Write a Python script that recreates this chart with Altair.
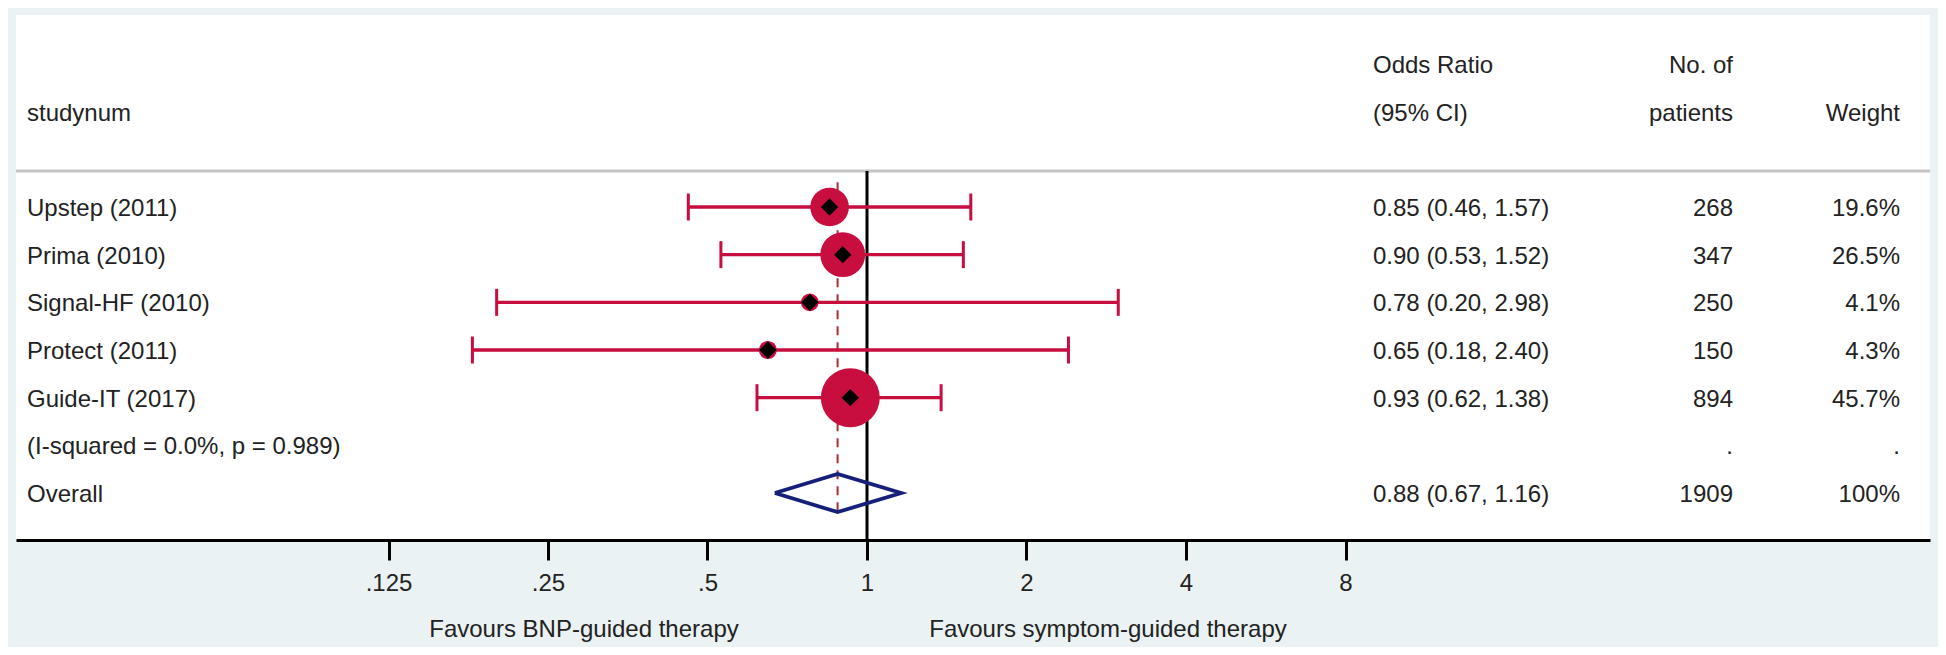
import altair as alt
import pandas as pd

# ---------------- data ----------------
studies = ["Upstep (2011)", "Prima (2010)", "Signal-HF (2010)", "Protect (2011)", "Guide-IT (2017)"]
or_est = [0.85, 0.90, 0.78, 0.65, 0.93]
ci_low = [0.46, 0.53, 0.20, 0.18, 0.62]
ci_high = [1.57, 1.52, 2.98, 2.40, 1.38]
patients = [268, 347, 250, 150, 894]
weights = [19.6, 26.5, 4.1, 4.3, 45.7]

overall_label = "Overall"
overall_est = 0.88
overall_low = 0.67
overall_high = 1.16
overall_n = 1909
overall_weight = "100%"
het_label = "(I-squared = 0.0%, p = 0.989)"

tick_values = [0.125, 0.25, 0.5, 1, 2, 4, 8]
left_note = "Favours BNP-guided therapy"
right_note = "Favours symptom-guided therapy"

# ---------------- layout / style ----------------
W, H = 1914, 525
X_ONE = 851.0            # view px where OR = 1
PX_PER_DOUBLING = 159.5
ROW0_Y = 192.0
ROW_STEP = 47.67
SEP_ROW = (156 - ROW0_Y) / ROW_STEP
FONT = "Liberation Sans"
FS = 24
TXT = "#222222"
RED = "#C80D3F"
NAVY = "#16207A"
DASH = "#A03038"

x_lo = 2 ** (-X_ONE / PX_PER_DOUBLING)
x_hi = 2 ** ((W - X_ONE) / PX_PER_DOUBLING)
y_top = -ROW0_Y / ROW_STEP
y_bot = (H - ROW0_Y) / ROW_STEP

xscale = alt.Scale(type="log", base=2, domain=[x_lo, x_hi], nice=False, zero=False)
yscale = alt.Scale(domain=[y_top, y_bot], reverse=True, nice=False, zero=False)
xaxis = alt.Axis(
    values=tick_values,
    labelExpr="datum.value < 1 ? substring(toString(datum.value), 1) : toString(datum.value)",
    title=None, grid=False, domainColor="black", domainWidth=3,
    tickColor="black", tickWidth=3, tickSize=20, labelFontSize=FS, labelFont=FONT,
    labelColor=TXT, labelPadding=11, labelFlush=False, labelOverlap=False,
)


def X(f):
    return alt.X(f, type="quantitative", scale=xscale, axis=xaxis)


def Y(f):
    return alt.Y(f, type="quantitative", scale=yscale, axis=None)


n = len(studies)
rows = list(range(n))
cap = 0.283
sdf = pd.DataFrame({
    "row": rows, "est": or_est, "lo": ci_low, "hi": ci_high, "weight": weights,
    "c0": [r - cap for r in rows], "c1": [r + cap for r in rows],
})

het_row = n
ov_row = n + 1

label_df = pd.DataFrame({
    "row": rows + [het_row, ov_row],
    "label": studies + [het_label, overall_label],
})
or_df = pd.DataFrame({
    "row": rows + [ov_row],
    "txt": [f"{e:.2f} ({l:.2f}, {h:.2f})" for e, l, h in zip(or_est, ci_low, ci_high)]
    + [f"{overall_est:.2f} ({overall_low:.2f}, {overall_high:.2f})"],
})
n_df = pd.DataFrame({
    "row": rows + [het_row, ov_row],
    "txt": [str(p) for p in patients] + [".", str(overall_n)],
})
w_df = pd.DataFrame({
    "row": rows + [het_row, ov_row],
    "txt": [f"{w}%" for w in weights] + [".", overall_weight],
})
hdr_left = pd.DataFrame({"row": [-2], "txt": ["studynum"]})
hdr_or = pd.DataFrame({"row": [-3, -2], "txt": ["Odds Ratio", "(95% CI)"]})
hdr_n = pd.DataFrame({"row": [-3, -2], "txt": ["No. of", "patients"]})
hdr_w = pd.DataFrame({"row": [-2], "txt": ["Weight"]})

dh = 0.4
diamond_df = pd.DataFrame({
    "x": [overall_low, overall_est, overall_high, overall_est, overall_low],
    "y": [ov_row, ov_row - dh, ov_row, ov_row + dh, ov_row],
    "o": [0, 1, 2, 3, 4],
})

sep = alt.Chart(pd.DataFrame({"r": [SEP_ROW]})).mark_rule(
    color="#C4C4C4", strokeWidth=3
).encode(y=Y("r"), x=alt.value(0), x2=alt.value(W))

null_line = alt.Chart(pd.DataFrame({"v": [1], "r": [SEP_ROW]})).mark_rule(
    color="black", strokeWidth=3
).encode(x=X("v"), y=Y("r"), y2=alt.value(H))

dash_line = alt.Chart(pd.DataFrame({"v": [overall_est], "r0": [-0.52], "r1": [6.46]})).mark_rule(
    color=DASH, strokeWidth=2, strokeDash=[9, 7]
).encode(x=X("v"), y=Y("r0"), y2="r1")

ci = alt.Chart(sdf).mark_rule(color=RED, strokeWidth=3.3).encode(x=X("lo"), x2="hi", y=Y("row"))
cap_lo = alt.Chart(sdf).mark_rule(color=RED, strokeWidth=3).encode(x=X("lo"), y=Y("c0"), y2="c1")
cap_hi = alt.Chart(sdf).mark_rule(color=RED, strokeWidth=3).encode(x=X("hi"), y=Y("c0"), y2="c1")

circles = alt.Chart(sdf).mark_point(
    shape="circle", filled=True, color=RED, opacity=1, strokeWidth=0
).encode(
    x=X("est"), y=Y("row"),
    size=alt.Size("weight:Q", scale=alt.Scale(domain=[0, 100], range=[0, 7600]), legend=None),
)
dmarks = alt.Chart(sdf).mark_point(
    shape="diamond", filled=True, color="black", opacity=1, size=300, strokeWidth=0
).encode(x=X("est"), y=Y("row"))

ov_diamond = alt.Chart(diamond_df).mark_line(
    color=NAVY, strokeWidth=3.8, strokeJoin="miter"
).encode(x=X("x"), y=Y("y"), order="o:Q")


def text_layer(df, field, xpx, align):
    return alt.Chart(df).mark_text(
        align=align, baseline="middle", font=FONT, fontSize=FS, color=TXT, dy=2
    ).encode(x=alt.value(xpx), y=Y("row"), text=f"{field}:N")


labels = text_layer(label_df, "label", 11, "left")
or_txt = text_layer(or_df, "txt", 1357, "left")
n_txt = text_layer(n_df, "txt", 1717, "right")
w_txt = text_layer(w_df, "txt", 1884, "right")
h1 = text_layer(hdr_left, "txt", 11, "left")
h2 = text_layer(hdr_or, "txt", 1357, "left")
h3 = text_layer(hdr_n, "txt", 1717, "right")
h4 = text_layer(hdr_w, "txt", 1884, "right")

fav_l = alt.Chart(pd.DataFrame({"t": [left_note]})).mark_text(
    align="center", baseline="middle", font=FONT, fontSize=FS, color=TXT
).encode(x=alt.value(568), y=alt.value(615), text="t:N")
fav_r = alt.Chart(pd.DataFrame({"t": [right_note]})).mark_text(
    align="center", baseline="middle", font=FONT, fontSize=FS, color=TXT
).encode(x=alt.value(1092), y=alt.value(615), text="t:N")

chart = alt.layer(
    sep, null_line, dash_line, ci, cap_lo, cap_hi, circles, dmarks, ov_diamond,
    labels, or_txt, n_txt, w_txt, h1, h2, h3, h4, fav_l, fav_r,
).properties(
    width=W, height=H,
    autosize=alt.AutoSizeParams(type="none"),
    padding={"left": 8, "top": 7, "right": 8, "bottom": 107},
    background="#EAF2F3",
).configure_view(fill="white", stroke=None)

chart.save("out.html", embed_options={"renderer": "svg", "actions": False})
